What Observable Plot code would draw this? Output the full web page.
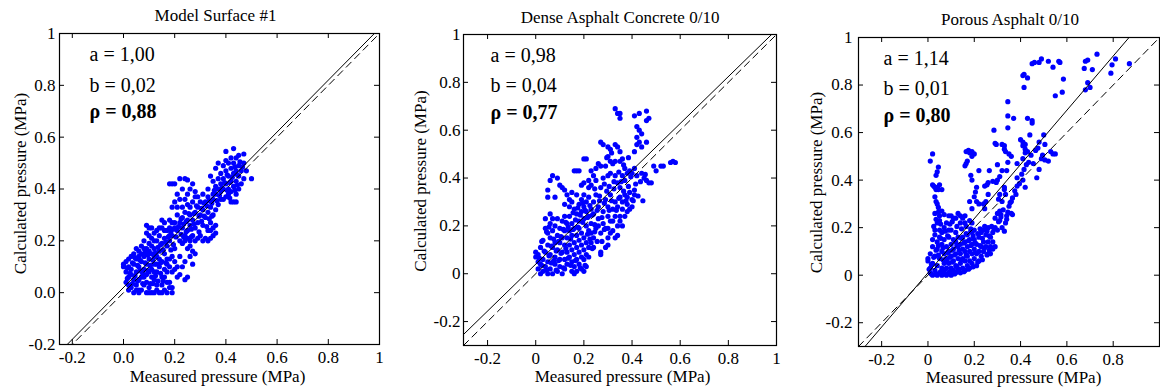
<!DOCTYPE html>
<html><head><meta charset="utf-8">
<script src="https://cdn.jsdelivr.net/npm/d3@7"></script>
<script src="https://cdn.jsdelivr.net/npm/@observablehq/plot@0.6"></script>
<style>
body{margin:0;background:#fff;}
#chart{display:flex;width:1160px;height:387px;}
#chart svg{display:block;overflow:visible;}
#chart svg, #chart svg text{font-family:"Liberation Serif","Times New Roman",serif !important;}
</style></head><body><div id="chart"></div>
<script>
const panelTitles = ["Model Surface #1", "Dense Asphalt Concrete 0/10", "Porous Asphalt 0/10"];
const fitA = [1.00, 0.98, 1.14];
const fitB = [0.02, 0.04, 0.01];
const rhoValues = [0.88, 0.77, 0.80];
const tickValues = [-0.2, 0, 0.2, 0.4, 0.6, 0.8, 1];
const tickLabelsSurface = ["-0.2", "0.0", "0.2", "0.4", "0.6", "0.8", "1"];
const tickLabelsAsphalt = ["-0.2", "0", "0.2", "0.4", "0.6", "0.8", "1"];
const tickLabelsPorousX = ["-0.2", "0", "0.2", "0.4", "0.6", "0.8", ""];
const xAxisLabel = "Measured pressure (MPa)";
const yAxisLabel = "Calculated pressure (MPa)";

// [measured, calculated]
const surfacePoints = [
[0.00,0.11],[0.00,0.10],[0.01,0.12],[0.01,0.08],[0.02,0.06],[0.02,0.13],[0.01,0.04],[0.02,0.01],[0.03,0.02],[0.03,0.09],[0.03,0.14],[0.04,0.11],[0.04,0.05],[0.04,0.00],[0.05,0.03],[0.05,0.08],[0.05,0.13],[0.06,0.10],[0.06,0.16],[0.06,0.01],[0.07,0.06],[0.07,0.12],[0.07,0.18],[0.08,0.03],[0.08,0.09],[0.08,0.14],[0.08,0.20],[0.09,0.07],[0.09,0.11],[0.09,0.17],[0.09,0.23],[0.09,0.26],[0.10,0.25],[0.10,0.02],[0.10,0.13],[0.10,0.19],[0.10,0.00],[0.11,0.09],[0.11,0.15],[0.11,0.21],[0.12,0.05],[0.12,0.11],[0.12,0.17],[0.12,0.00],[0.13,0.08],[0.13,0.14],[0.13,0.20],[0.13,0.03],[0.14,0.10],[0.14,0.16],[0.14,0.22],[0.14,0.00],[0.15,0.06],[0.15,0.12],[0.15,0.19],[0.15,0.25],[0.16,0.09],[0.16,0.15],[0.16,0.21],[0.16,0.01],[0.17,0.04],[0.17,0.13],[0.17,0.18],[0.17,0.24],[0.18,0.28],[0.18,0.10],[0.18,0.02],[0.18,0.20],[0.19,0.14],[0.19,0.22],[0.19,0.00],[0.20,0.27],[0.20,0.17],[0.20,0.09],[0.21,0.06],[0.21,0.24],[0.21,0.30],
[0.05,0.17],[0.06,0.14],[0.07,0.15],[0.08,0.17],[0.10,0.16],[0.11,0.18],[0.12,0.14],[0.03,0.07],[0.04,0.15],[0.02,0.10],[0.06,0.05],[0.08,0.06],[0.11,0.06],[0.13,0.11],[0.14,0.13],[0.02,0.03],[0.05,0.01],[0.07,0.01],[0.09,0.04],[0.10,0.08],[0.12,0.08],[0.16,0.06],[0.17,0.08],[0.15,0.03],
[0.09,0.00],[0.11,0.00],[0.15,0.00],[0.17,0.00],[0.13,0.01],[0.06,0.00],[0.18,0.04],[0.19,0.02],
[0.17,0.11],[0.18,0.13],[0.20,0.12],[0.19,0.08],[0.21,0.10],[0.22,0.14],[0.22,0.07],[0.25,0.06],[0.24,0.05],[0.23,0.10],[0.24,0.12],[0.26,0.14],[0.27,0.16],[0.25,0.17],[0.26,0.18],[0.28,0.15],[0.27,0.11],[0.23,0.19],
[0.22,0.27],[0.23,0.25],[0.23,0.29],[0.24,0.22],[0.24,0.31],[0.25,0.28],[0.25,0.24],[0.25,0.21],[0.26,0.26],[0.26,0.30],[0.26,0.33],[0.27,0.22],[0.27,0.28],[0.27,0.35],[0.28,0.25],[0.28,0.31],[0.28,0.20],[0.29,0.27],[0.29,0.33],[0.29,0.37],[0.30,0.22],[0.30,0.30],[0.30,0.35],[0.31,0.26],[0.31,0.32],[0.31,0.38],[0.32,0.21],[0.32,0.29],[0.32,0.35],[0.33,0.24],[0.33,0.31],[0.33,0.37],[0.33,0.40],[0.34,0.27],[0.34,0.33],[0.34,0.21],[0.35,0.30],[0.35,0.36],[0.35,0.25],[0.36,0.32],[0.36,0.23],[0.36,0.38],[0.37,0.34],[0.37,0.40],[0.38,0.36],
[0.22,0.20],[0.24,0.20],[0.26,0.20],[0.29,0.21],[0.31,0.20],[0.33,0.20],[0.35,0.22],[0.36,0.26],[0.34,0.24],
[0.18,0.42],[0.19,0.42],[0.20,0.42],[0.22,0.44],[0.24,0.44],[0.25,0.435],[0.21,0.38],[0.22,0.36],[0.23,0.40],[0.24,0.36],[0.25,0.38],[0.26,0.40],[0.27,0.42],[0.28,0.39],[0.19,0.33],[0.20,0.35],[0.21,0.33],[0.23,0.33],[0.25,0.34],[0.28,0.37],
[0.14,0.25],[0.15,0.28],[0.16,0.27],[0.16,0.24],[0.18,0.25],[0.19,0.27],[0.20,0.25],[0.18,0.22],[0.13,0.24],[0.12,0.23],[0.11,0.25],[0.12,0.20],[0.10,0.22],
[0.38,0.42],[0.38,0.46],[0.39,0.40],[0.39,0.44],[0.39,0.49],[0.40,0.37],[0.40,0.42],[0.40,0.47],[0.40,0.51],[0.40,0.545],[0.41,0.40],[0.41,0.45],[0.41,0.50],[0.42,0.35],[0.42,0.39],[0.42,0.43],[0.42,0.48],[0.42,0.52],[0.43,0.35],[0.43,0.41],[0.43,0.46],[0.43,0.50],[0.43,0.556],[0.44,0.35],[0.44,0.38],[0.44,0.43],[0.44,0.47],[0.44,0.52],[0.45,0.40],[0.45,0.45],[0.45,0.49],[0.45,0.53],[0.46,0.42],[0.46,0.47],[0.47,0.44],[0.47,0.535],[0.47,0.50],[0.48,0.47],[0.50,0.44],[0.37,0.44],[0.36,0.41],[0.35,0.43],[0.34,0.45],[0.36,0.48],[0.37,0.50],[0.38,0.39],[0.35,0.38],[0.39,0.36],[0.41,0.38],
[0.015,0.095],[0.025,0.075],[0.035,0.115],[0.045,0.065],[0.055,0.105],[0.065,0.085],[0.075,0.035],[0.085,0.115],[0.095,0.145],[0.105,0.105],[0.115,0.125],[0.125,0.155],[0.135,0.175],[0.145,0.185],[0.155,0.165],[0.165,0.195],[0.175,0.215],[0.185,0.235],[0.195,0.245],[0.205,0.215],[0.215,0.255],[0.225,0.285],[0.235,0.265],[0.245,0.275],[0.255,0.305],[0.265,0.245],[0.275,0.305],[0.285,0.335],[0.295,0.295],[0.305,0.325],[0.315,0.345],[0.325,0.335],[0.335,0.355],[0.345,0.345],[0.355,0.395],[0.365,0.355],[0.375,0.375],[0.385,0.405],[0.395,0.425],[0.405,0.455],[0.415,0.425],[0.425,0.445],[0.435,0.485],[0.445,0.455],[0.455,0.505],[0.465,0.485],[0.435,0.395],[0.445,0.415],[0.415,0.365],[0.405,0.395],[0.065,0.125],[0.045,0.135],[0.085,0.155],[0.105,0.035],[0.125,0.065],[0.145,0.075],[0.035,0.035],[0.055,0.045],[0.075,0.075],[0.095,0.085],[0.135,0.045],[0.155,0.045],[0.115,0.035],[0.025,0.025],[0.015,0.055],[0.145,0.115],[0.165,0.115],[0.185,0.165],[0.195,0.185],[0.225,0.225],[0.245,0.235],[0.275,0.265],[0.305,0.275],[0.325,0.255],[0.345,0.295],[0.295,0.235],[0.265,0.215],[0.235,0.215],[0.315,0.295],[0.335,0.285]
];

const densePoints = [
[0.33,0.69],[0.34,0.67],[0.35,0.67],[0.35,0.65],[0.46,0.68],[0.41,0.66],[0.43,0.67],[0.46,0.64],[0.47,0.65],[0.42,0.615],[0.43,0.60],[0.44,0.585],[0.42,0.57],[0.43,0.55],[0.42,0.54],[0.46,0.55],[0.41,0.51],[0.44,0.53],
[0.27,0.55],[0.28,0.54],[0.30,0.53],[0.31,0.52],[0.33,0.54],[0.34,0.53],[0.35,0.51],[0.30,0.49],[0.31,0.47],[0.32,0.46],[0.33,0.47],[0.35,0.47],[0.36,0.48],[0.37,0.44],[0.38,0.42],[0.39,0.43],[0.40,0.42],[0.41,0.44],[0.42,0.41],[0.29,0.45],[0.26,0.46],[0.27,0.45],[0.25,0.44],[0.20,0.48],[0.21,0.48],[0.16,0.43],[0.17,0.43],[0.18,0.43],[0.23,0.43],[0.22,0.39],[0.24,0.41],[0.25,0.39],[0.28,0.40],[0.30,0.41],[0.31,0.42],[0.33,0.41],[0.34,0.38],[0.35,0.36],[0.37,0.39],[0.36,0.41],
[0.57,0.47],[0.56,0.465],[0.58,0.465],[0.52,0.45],[0.53,0.45],[0.49,0.45],[0.45,0.40],[0.46,0.39],[0.47,0.38],[0.48,0.38],[0.50,0.43],[0.44,0.42],
[0.07,0.41],[0.09,0.40],[0.06,0.39],[0.05,0.35],[0.05,0.32],[0.10,0.37],[0.11,0.36],[0.12,0.35],[0.13,0.33],[0.14,0.31],[0.15,0.34],[0.17,0.33],[0.19,0.37],[0.20,0.38],[0.22,0.36],[0.23,0.37],[0.08,0.32],[0.12,0.29],[0.14,0.28],[0.06,0.25],
[0.15,0.30],[0.16,0.27],[0.17,0.25],[0.18,0.29],[0.18,0.22],[0.19,0.26],[0.19,0.31],[0.20,0.23],[0.20,0.28],[0.20,0.33],[0.21,0.20],[0.21,0.26],[0.21,0.30],[0.22,0.24],[0.22,0.18],[0.22,0.32],[0.23,0.27],[0.23,0.21],[0.24,0.30],[0.24,0.25],[0.24,0.15],[0.25,0.19],[0.25,0.33],[0.26,0.23],[0.26,0.28],[0.27,0.17],[0.27,0.36],[0.28,0.21],[0.28,0.26],[0.29,0.31],[0.29,0.19],[0.30,0.24],[0.30,0.28],[0.31,0.33],[0.31,0.22],[0.32,0.27],[0.32,0.18],[0.33,0.30],[0.33,0.24],[0.34,0.20],[0.34,0.28],[0.35,0.32],[0.36,0.27],[0.36,0.30],[0.37,0.33],[0.38,0.29],[0.38,0.32],[0.39,0.34],[0.40,0.31],[0.40,0.28],[0.41,0.35],[0.41,0.33],[0.39,0.27],[0.35,0.24],
[0.27,0.09],[0.27,0.08],[0.29,0.11],[0.30,0.12],[0.26,0.20],[0.30,0.19],[0.31,0.17],
[0.00,0.09],[0.00,0.07],[0.01,0.05],[0.01,0.02],[0.01,0.08],[0.02,0.00],[0.02,0.04],[0.02,0.11],[0.03,0.01],[0.03,0.06],[0.03,0.14],[0.04,0.03],[0.04,0.09],[0.04,0.19],[0.04,0.23],[0.05,0.00],[0.05,0.05],[0.05,0.12],[0.05,0.17],[0.06,0.02],[0.06,0.08],[0.06,0.15],[0.06,0.21],[0.07,0.00],[0.07,0.11],[0.07,0.18],[0.07,0.23],[0.08,0.04],[0.08,0.07],[0.08,0.13],[0.08,0.20],[0.09,0.01],[0.09,0.10],[0.09,0.16],[0.09,0.23],[0.10,0.03],[0.10,0.06],[0.10,0.13],[0.10,0.19],[0.11,0.00],[0.11,0.09],[0.11,0.15],[0.11,0.22],[0.12,0.02],[0.12,0.06],[0.12,0.12],[0.12,0.18],[0.12,0.24],[0.13,0.04],[0.13,0.09],[0.13,0.15],[0.13,0.21],[0.14,0.07],[0.14,0.12],[0.14,0.18],[0.14,0.24],[0.15,0.01],[0.15,0.05],[0.15,0.10],[0.15,0.16],[0.15,0.21],[0.16,0.00],[0.16,0.03],[0.16,0.08],[0.16,0.13],[0.16,0.19],[0.17,0.01],[0.17,0.06],[0.17,0.11],[0.17,0.16],[0.18,0.04],[0.18,0.09],[0.18,0.14],[0.18,0.19],[0.19,0.02],[0.19,0.07],[0.19,0.12],[0.19,0.17],[0.20,0.01],[0.20,0.06],[0.20,0.10],[0.20,0.15],[0.21,0.03],[0.21,0.08],[0.21,0.13],[0.22,0.11],[0.22,0.07],[0.23,0.13],[0.23,0.17],[0.24,0.11],
[0.32,0.22],[0.34,0.16],[0.35,0.22],[0.37,0.24],[0.38,0.26],[0.36,0.20],[0.33,0.15],[0.30,0.15],
[0.015,0.065],[0.025,0.035],[0.035,0.095],[0.045,0.015],[0.055,0.075],[0.065,0.115],[0.075,0.055],[0.085,0.095],[0.095,0.135],[0.105,0.085],[0.115,0.185],[0.125,0.105],[0.135,0.065],[0.145,0.145],[0.155,0.185],[0.165,0.225],[0.175,0.195],[0.185,0.245],[0.195,0.215],[0.205,0.265],[0.215,0.235],[0.225,0.285],[0.235,0.245],[0.245,0.205],[0.255,0.265],[0.265,0.305],[0.275,0.235],[0.285,0.295],[0.295,0.345],[0.305,0.265],[0.315,0.305],[0.325,0.355],[0.335,0.265],[0.345,0.315],[0.355,0.385],[0.365,0.345],[0.375,0.305],[0.385,0.365],[0.395,0.405],[0.405,0.305],[0.415,0.375],[0.425,0.325],[0.445,0.305],[0.455,0.415],[0.435,0.385],[0.025,0.135],[0.045,0.175],[0.065,0.045],[0.085,0.015],[0.105,0.155],[0.125,0.215],[0.145,0.035],[0.165,0.055],[0.185,0.025],[0.205,0.035],[0.175,0.275],[0.195,0.295],[0.155,0.255],[0.135,0.195],[0.115,0.025],[0.095,0.055],[0.075,0.145],[0.055,0.195],[0.215,0.165],[0.225,0.145],[0.245,0.175],[0.255,0.135],[0.235,0.105],[0.275,0.135],[0.285,0.185],[0.265,0.325],[0.245,0.355],[0.285,0.375],[0.305,0.365],[0.325,0.385],[0.345,0.425],[0.365,0.455],[0.385,0.485],[0.315,0.505],[0.295,0.485]
];

const porousPoints = [
[0.73,0.93],[0.68,0.90],[0.69,0.905],[0.675,0.87],[0.71,0.865],[0.81,0.91],[0.795,0.885],[0.79,0.85],[0.87,0.89],[0.69,0.81],[0.70,0.79],[0.68,0.78],
[0.49,0.91],[0.52,0.90],[0.48,0.895],[0.45,0.89],[0.46,0.895],[0.54,0.875],[0.57,0.895],[0.565,0.90],[0.585,0.825],[0.58,0.77],[0.55,0.755],
[0.41,0.84],[0.415,0.845],[0.43,0.83],[0.415,0.79],[0.345,0.73],[0.345,0.67],[0.37,0.66],[0.43,0.66],[0.45,0.65],[0.45,0.64],[0.285,0.61],[0.345,0.62],
[0.40,0.57],[0.41,0.56],[0.42,0.55],[0.44,0.59],[0.50,0.59],[0.48,0.56],[0.505,0.55],[0.55,0.51],[0.54,0.51],[0.53,0.52],[0.52,0.48],[0.49,0.49],[0.455,0.47],[0.48,0.445],[0.47,0.41],
[0.41,0.545],[0.42,0.53],[0.43,0.52],[0.42,0.515],[0.41,0.49],[0.385,0.47],[0.385,0.41],[0.41,0.40],[0.42,0.37],[0.38,0.34],[0.365,0.255],[0.315,0.255],
[0.32,0.55],[0.33,0.545],[0.33,0.53],[0.335,0.52],[0.35,0.51],[0.36,0.50],[0.29,0.555],[0.295,0.55],[0.30,0.465],[0.345,0.475],[0.34,0.44],[0.32,0.44],[0.31,0.415],[0.30,0.40],[0.295,0.39],[0.33,0.37],[0.33,0.36],[0.335,0.34],[0.31,0.34],[0.305,0.32],[0.32,0.31],[0.31,0.27],[0.30,0.26],[0.29,0.24],[0.31,0.23],[0.34,0.235],[0.335,0.22],[0.33,0.185],
[0.28,0.395],[0.26,0.39],[0.255,0.38],[0.245,0.375],[0.265,0.44],[0.22,0.44],[0.25,0.31],[0.26,0.34],
[0.01,0.48],[0.02,0.51],[0.045,0.455],[0.04,0.435],[0.035,0.42],[0.02,0.38],[0.025,0.375],[0.03,0.37],[0.035,0.36],[0.04,0.365],[0.04,0.37],[0.045,0.36],[0.05,0.38],[0.06,0.36],[0.03,0.33],[0.035,0.31],[0.04,0.30],[0.045,0.285],
[0.165,0.52],[0.175,0.525],[0.18,0.515],[0.19,0.52],[0.19,0.50],[0.20,0.51],[0.17,0.48],[0.165,0.47],[0.16,0.46],[0.185,0.42],[0.19,0.40],[0.21,0.37],[0.205,0.35],[0.20,0.33],[0.21,0.31],[0.22,0.30],[0.18,0.31],[0.19,0.28],[0.24,0.30],[0.245,0.28],
[0.05,0.25],[0.07,0.255],[0.09,0.25],[0.10,0.25],[0.11,0.24],[0.13,0.26],[0.14,0.25],[0.15,0.24],[0.16,0.25],[0.12,0.24],[0.14,0.22],[0.16,0.22],[0.18,0.23],[0.19,0.22],
[0.00,0.06],[0.00,0.07],[0.01,0.03],[0.01,0.01],[0.01,0.09],[0.02,0.00],[0.02,0.05],[0.02,0.12],[0.02,0.15],[0.03,0.02],[0.03,0.08],[0.03,0.19],[0.03,0.17],[0.04,0.00],[0.04,0.04],[0.04,0.11],[0.04,0.14],[0.04,0.22],[0.05,0.01],[0.05,0.07],[0.05,0.16],[0.05,0.19],[0.06,0.00],[0.06,0.03],[0.06,0.10],[0.06,0.13],[0.06,0.18],[0.07,0.01],[0.07,0.05],[0.07,0.09],[0.07,0.15],[0.07,0.20],[0.08,0.00],[0.08,0.03],[0.08,0.07],[0.08,0.12],[0.09,0.01],[0.09,0.05],[0.09,0.10],[0.09,0.16],[0.10,0.00],[0.10,0.03],[0.10,0.08],[0.10,0.13],[0.10,0.19],[0.11,0.02],[0.11,0.06],[0.11,0.11],[0.11,0.15],[0.12,0.01],[0.12,0.04],[0.12,0.09],[0.12,0.14],[0.12,0.18],[0.13,0.02],[0.13,0.07],[0.13,0.12],[0.13,0.16],[0.14,0.01],[0.14,0.05],[0.14,0.09],[0.14,0.13],[0.15,0.03],[0.15,0.07],[0.15,0.11],[0.15,0.16],[0.16,0.02],[0.16,0.06],[0.16,0.10],[0.16,0.14],[0.17,0.04],[0.17,0.08],[0.17,0.12],[0.17,0.17],[0.18,0.03],[0.18,0.06],[0.18,0.10],[0.18,0.15],[0.19,0.05],[0.19,0.09],[0.19,0.13],[0.19,0.18],[0.20,0.07],[0.20,0.11],[0.20,0.15],[0.20,0.19],[0.21,0.04],[0.21,0.09],[0.21,0.13],[0.22,0.06],[0.22,0.10],[0.22,0.16],[0.23,0.08],[0.23,0.12],[0.23,0.18],[0.24,0.10],[0.24,0.14],[0.24,0.19],[0.25,0.12],[0.25,0.17],[0.26,0.14],[0.26,0.20],[0.27,0.16],[0.27,0.12],[0.28,0.18],[0.28,0.14],[0.29,0.20],[0.30,0.19],[0.27,0.09],[0.26,0.09],[0.29,0.12],[0.28,0.11],
[0.32,0.20],[0.34,0.25],[0.36,0.26],[0.35,0.29],[0.36,0.31],[0.05,0.23],[0.06,0.27],[0.08,0.22],[0.09,0.19],[0.03,0.26],
[0.005,0.025],[0.015,0.045],[0.025,0.075],[0.035,0.105],[0.045,0.125],[0.055,0.155],[0.065,0.115],[0.075,0.025],[0.085,0.055],[0.095,0.075],[0.105,0.105],[0.115,0.085],[0.125,0.125],[0.135,0.105],[0.145,0.155],[0.155,0.135],[0.165,0.175],[0.175,0.145],[0.185,0.195],[0.195,0.165],[0.205,0.135],[0.215,0.175],[0.225,0.195],[0.235,0.155],[0.245,0.205],[0.255,0.185],[0.265,0.165],[0.275,0.205],[0.285,0.195],[0.015,0.005],[0.035,0.005],[0.055,0.015],[0.075,0.005],[0.095,0.015],[0.115,0.005],[0.135,0.025],[0.155,0.015],[0.175,0.025],[0.195,0.035],[0.215,0.055],[0.235,0.065],[0.255,0.085],[0.045,0.085],[0.065,0.065],[0.085,0.095],[0.105,0.055],[0.125,0.035],[0.145,0.065],[0.165,0.085],[0.185,0.125],[0.205,0.095],[0.225,0.125],[0.245,0.115],[0.265,0.105],[0.025,0.205],[0.035,0.235],[0.045,0.265],[0.055,0.215],[0.075,0.185],[0.085,0.165],[0.095,0.215],[0.105,0.225],[0.125,0.205],[0.145,0.195],[0.165,0.205],[0.185,0.185],[0.305,0.225],[0.315,0.245],[0.325,0.275],[0.345,0.265],[0.355,0.305],[0.365,0.325],[0.375,0.355],[0.385,0.375],[0.395,0.385],[0.405,0.425],[0.415,0.445],[0.425,0.465],[0.435,0.475],[0.445,0.505],[0.465,0.525],[0.475,0.535],[0.495,0.505],[0.505,0.485]
];

const panelPoints = [surfacePoints, densePoints, porousPoints];
const panelXTickLabels = [tickLabelsSurface, tickLabelsAsphalt, tickLabelsPorousX];
const panelYTickLabels = [tickLabelsSurface, tickLabelsAsphalt, tickLabelsAsphalt];

// layout (pixels / domains), not data
const layouts = [
  {width: 400, mt: 33, mb: 43, ml: 59, mr: 21, xDomain: [-0.25, 1], yDomain: [-0.2, 1], titleDx: -4, titleDy: -13, statDx: 30, statDy: [27, 58, 84], xLabelDx: -2, xLabelDy: 37, yLabelDx: -34, yLabelDy: -5.5, yPad: 4},
  {width: 390, mt: 34, mb: 42, ml: 63, mr: 14, xDomain: [-0.3, 1], yDomain: [-0.3, 1], titleDx: 0, titleDy: -12, statDx: 27, statDy: [27, 57, 84], xLabelDx: 2.5, xLabelDy: 36, yLabelDx: -38, yLabelDy: -9, yPad: 3},
  {width: 370, mt: 37, mb: 41, ml: 68, mr: 1, xDomain: [-0.3, 1], yDomain: [-0.3, 1], titleDx: 1, titleDy: -13, statDx: 25, statDy: [27, 57, 84], xLabelDx: 4.5, xLabelDy: 36, yLabelDx: -37, yLabelDy: -9.5, yPad: 6}
];
const HEIGHT = 387;
const comma = v => v.toFixed(2).replace(".", ",");

const chart = document.getElementById("chart");
layouts.forEach((L, i) => {
  const a = fitA[i], b = fitB[i];
  const xLabels = panelXTickLabels[i], yLabels = panelYTickLabels[i];
  const W = L.width - L.ml - L.mr;
  const H = HEIGHT - L.mt - L.mb;
  const fitLine = L.xDomain.map(x => ({x, y: a * x + b}));
  const oneToOne = L.xDomain.map(x => ({x, y: x}));
  const stats = [`a = ${comma(a)}`, `b = ${comma(b)}`, `ρ = ${comma(rhoValues[i])}`];
  const pts = panelPoints[i];
  const svg = Plot.plot({
    width: L.width,
    height: HEIGHT,
    marginTop: L.mt, marginBottom: L.mb, marginLeft: L.ml, marginRight: L.mr,
    style: {fontFamily: "'Liberation Serif', 'Times New Roman', serif", fontSize: "17px", color: "black", background: "transparent", overflow: "visible"},
    x: {domain: L.xDomain, ticks: tickValues, tickFormat: d => xLabels[tickValues.indexOf(d)], tickSize: 0, tickPadding: 6, label: null},
    y: {domain: L.yDomain, ticks: tickValues, tickFormat: d => yLabels[tickValues.indexOf(d)], tickSize: 0, tickPadding: L.yPad, label: null},
    marks: [
      Plot.dot(pts, {x: d => d[0], y: d => d[1], r: 2.6, fill: "#0000ff", stroke: "none"}),
      Plot.line(oneToOne, {x: "x", y: "y", stroke: "black", strokeWidth: 1, strokeDasharray: "7,5", clip: true}),
      Plot.line(fitLine, {x: "x", y: "y", stroke: "black", strokeWidth: 1, clip: true}),
      Plot.tickX(tickValues, {x: d => d, stroke: "black", insetTop: H - 5}),
      Plot.tickX(tickValues, {x: d => d, stroke: "black", insetBottom: H - 5}),
      Plot.tickY(tickValues, {y: d => d, stroke: "black", insetRight: W - 5}),
      Plot.tickY(tickValues, {y: d => d, stroke: "black", insetLeft: W - 5}),
      Plot.frame({stroke: "black", strokeWidth: 1.2}),
      ...stats.map((s, k) => Plot.text([s], {text: d => d, frameAnchor: "top-left", textAnchor: "start", lineAnchor: "bottom", dx: L.statDx, dy: L.statDy[k], fontSize: 20, fontWeight: k === 2 ? "bold" : "normal", fill: "black"})),
      Plot.text([panelTitles[i]], {text: d => d, frameAnchor: "top", textAnchor: "middle", lineAnchor: "bottom", dx: L.titleDx, dy: L.titleDy, fontSize: 17, fill: "black"}),
      Plot.text([xAxisLabel], {text: d => d, frameAnchor: "bottom", textAnchor: "middle", lineAnchor: "bottom", dx: L.xLabelDx, dy: L.xLabelDy, fontSize: 17, fill: "black"}),
      Plot.text([yAxisLabel], {text: d => d, frameAnchor: "left", textAnchor: "middle", lineAnchor: "bottom", rotate: -90, dx: L.yLabelDx, dy: L.yLabelDy, fontSize: 17, fill: "black"})
    ]
  });
  chart.appendChild(svg);
});
</script></body></html>
